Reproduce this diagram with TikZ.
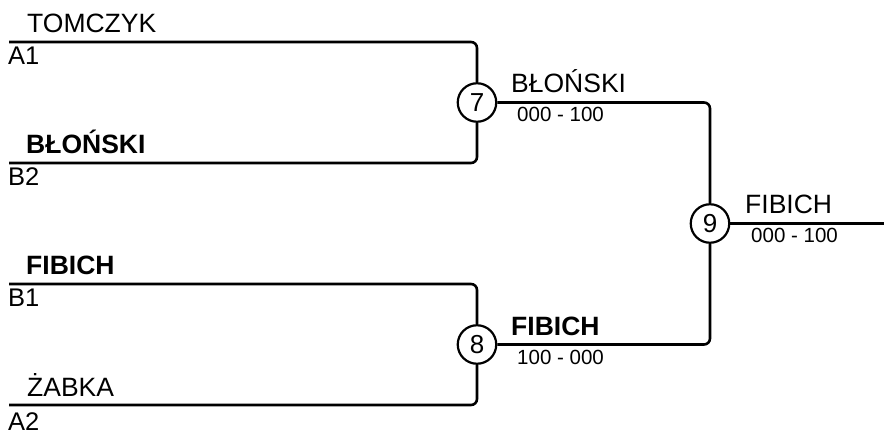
\documentclass[tikz,border=0pt]{standalone}
\usepackage{fontspec}
\setmainfont{Liberation Sans}
\begin{document}
\begin{tikzpicture}[x=1pt,y=-1pt,
  bline/.style={line width=2.6pt, rounded corners=6pt},
  matchc/.style={circle, draw, line width=2.2pt, minimum size=38.5pt, inner sep=0pt, font=\fontsize{26}{30}\selectfont},
  pname/.style={anchor=base west, inner sep=0pt, font=\fontsize{26.5}{31}\selectfont},
  bname/.style={anchor=base west, inner sep=0pt, font=\fontsize{26.5}{31}\selectfont\bfseries},
  slot/.style={anchor=base west, inner sep=0pt, font=\fontsize{25.5}{30}\selectfont},
  score/.style={anchor=base west, inner sep=0pt, font=\fontsize{20.5}{24}\selectfont}]
\useasboundingbox (0,0) rectangle (884,430);
% match circles
\node[matchc] (c7) at (477,102.5) {7};
\node[matchc] (c8) at (477,344.5) {8};
\node[matchc] (c9) at (710,223.5) {9};
% line starts
\coordinate (p1) at (9,42);
\coordinate (p2) at (9,163);
\coordinate (p3) at (9,284);
\coordinate (p4) at (9,405);
\coordinate (pend) at (884,223.5);
% connectors
\draw[bline] (p1) -| (c7.north);
\draw[bline] (p2) -| (c7.south);
\draw[bline] (p3) -| (c8.north);
\draw[bline] (p4) -| (c8.south);
\draw[bline] (c7.east) -| (c9.north);
\draw[bline] (c8.east) -| (c9.south);
\draw[bline] (c9.east) -- (pend);
% first round
\node[pname] (n1) at (27,33)  {TOMCZYK};
\node[slot]  (s1) at (8,65)   {A1};
\node[bname] (n2) at (26,154) {BŁOŃSKI};
\node[slot]  (s2) at (8,186)  {B2};
\node[bname] (n3) at (26,275) {FIBICH};
\node[slot]  (s3) at (8,307)  {B1};
\node[pname] (n4) at (27,396) {ŻABKA};
\node[slot]  (s4) at (8,430)  {A2};
% winners
\node[pname] (w7) at (511,93)  {BŁOŃSKI};
\node[score] (r7) at (517,122) {000 - 100};
\node[bname] (w8) at (511,336) {FIBICH};
\node[score] (r8) at (517,365) {100 - 000};
\node[pname] (w9) at (745,214) {FIBICH};
\node[score] (r9) at (751,243) {000 - 100};
\end{tikzpicture}
\end{document}
